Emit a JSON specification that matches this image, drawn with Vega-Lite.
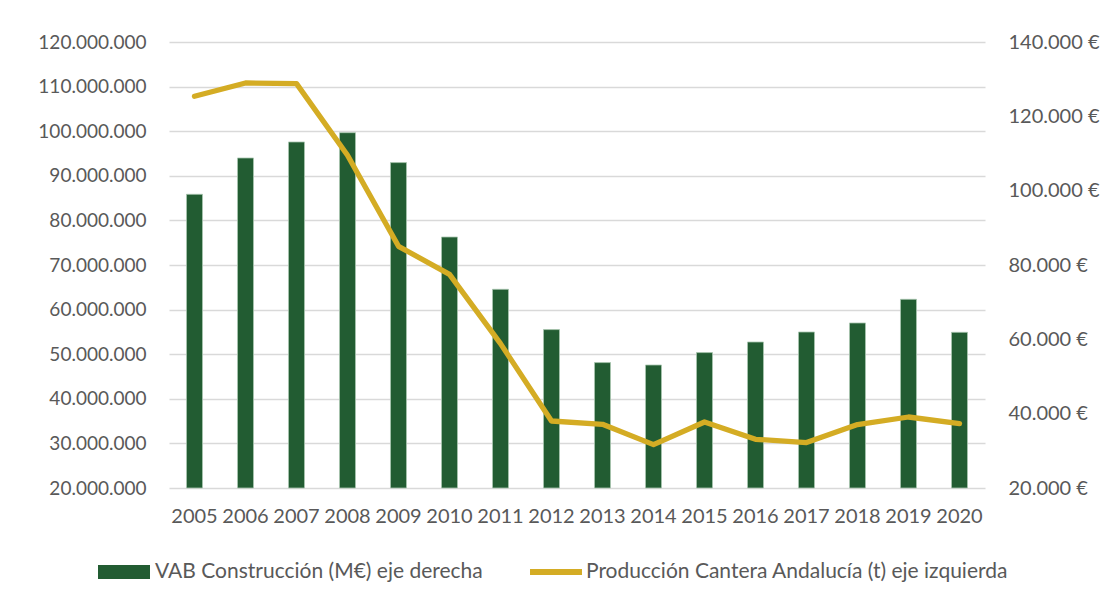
{
  "$schema": "https://vega.github.io/schema/vega-lite/v6.json",
  "width": 816,
  "height": 446,
  "autosize": {"type": "none"},
  "padding": {"left": 169, "top": 42, "right": 123, "bottom": 114},
  "background": "white",
  "config": {
    "locale": {"number": {"decimal": ",", "thousands": ".", "grouping": [3], "currency": ["", " €"]}},
    "view": {"stroke": null},
    "font": "Lato",
    "axis": {"labelFont": "Lato", "labelFontSize": 20, "labelColor": "#595959", "domain": false, "ticks": false, "gridColor": "#d9d9d9", "gridWidth": 1.3},
    "legend": {"labelFont": "Lato", "labelFontSize": 21, "labelColor": "#595959", "padding": 0, "labelLimit": 0}
  },
  "data": {
    "values": [
      {"year": "2005", "vab": 99020, "prod": 107830000},
      {"year": "2006", "vab": 108790, "prod": 110810000},
      {"year": "2007", "vab": 113100, "prod": 110670000},
      {"year": "2008", "vab": 115600, "prod": 94600000},
      {"year": "2009", "vab": 107550, "prod": 74190000},
      {"year": "2010", "vab": 87530, "prod": 67910000},
      {"year": "2011", "vab": 73460, "prod": 52380000},
      {"year": "2012", "vab": 62620, "prod": 35020000},
      {"year": "2013", "vab": 53740, "prod": 34280000},
      {"year": "2014", "vab": 53090, "prod": 29730000},
      {"year": "2015", "vab": 56430, "prod": 34800000},
      {"year": "2016", "vab": 59280, "prod": 30920000},
      {"year": "2017", "vab": 61970, "prod": 30180000},
      {"year": "2018", "vab": 64400, "prod": 34220000},
      {"year": "2019", "vab": 70770, "prod": 35920000},
      {"year": "2020", "vab": 61890, "prod": 34440000}
    ]
  },
  "encoding": {
    "x": {
      "field": "year",
      "type": "ordinal",
      "scale": {"paddingInner": 0.686, "paddingOuter": 0.343},
      "axis": {"title": null, "labelAngle": 0, "labelPadding": 18, "grid": false}
    }
  },
  "layer": [
    {
      "mark": {"type": "bar", "stroke": "#a9c6b0", "strokeWidth": 0.8},
      "encoding": {
        "y": {
          "field": "vab",
          "type": "quantitative",
          "scale": {"domain": [20000, 140000], "zero": false, "nice": false},
          "axis": {"orient": "right", "title": null, "values": [20000, 40000, 60000, 80000, 100000, 120000, 140000], "format": "$,.0f", "grid": false, "labelPadding": 23}
        },
        "y2": {"datum": 20000},
        "fill": {
          "datum": "VAB Construcción (M€) eje derecha",
          "type": "nominal",
          "scale": {"range": ["#225C32"]},
          "legend": {"orient": "none", "legendX": -71, "legendY": 504, "title": null, "symbolType": "M-1,-0.27H1V0.27H-1Z", "symbolSize": 2704, "symbolStrokeWidth": 0, "labelOffset": 5}
        }
      }
    },
    {
      "mark": {"type": "line", "strokeWidth": 5.3, "strokeCap": "round", "strokeJoin": "round"},
      "encoding": {
        "y": {
          "field": "prod",
          "type": "quantitative",
          "scale": {"domain": [20000000, 120000000], "zero": false, "nice": false},
          "axis": {"orient": "left", "title": null, "values": [20000000, 30000000, 40000000, 50000000, 60000000, 70000000, 80000000, 90000000, 100000000, 110000000, 120000000], "format": ",.0f", "grid": true, "labelPadding": 23, "labelFontSize": 19}
        },
        "stroke": {
          "datum": "Producción Cantera Andalucía (t) eje izquierda",
          "type": "nominal",
          "scale": {"range": ["#D4AC24"]},
          "legend": {"orient": "none", "legendX": 358, "legendY": 501, "title": null, "symbolType": "stroke", "symbolSize": 2700, "symbolStrokeWidth": 6, "labelOffset": 1}
        }
      }
    }
  ],
  "resolve": {"scale": {"y": "independent"}}
}
